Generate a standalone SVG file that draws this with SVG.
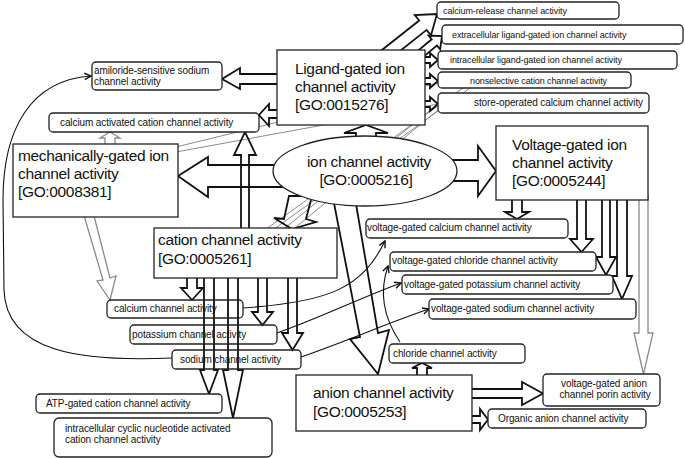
<svg xmlns="http://www.w3.org/2000/svg" width="685" height="458" viewBox="0 0 685 458">
<style>
text{font-family:"Liberation Sans",Arial,sans-serif;fill:#111}
.big{font-size:15.5px;letter-spacing:-0.35px}
.sm{font-size:10px;letter-spacing:-0.1px}
.xs{font-size:9px;letter-spacing:-0.1px}
.box{fill:#fff;stroke:#222;stroke-width:1.3}
.open{fill:none;stroke:#222;stroke-width:1.3}
.ar{fill:none;stroke:#111;stroke-width:1.8;stroke-linejoin:miter}
.ga{fill:none;stroke:#8a8a8a;stroke-width:1.3}
.gl{fill:none;stroke:#8a8a8a;stroke-width:1}
.th{fill:none;stroke:#111;stroke-width:1.1;marker-end:url(#ah)}
</style>
<defs>
<marker id="ah" viewBox="0 0 10 10" refX="9" refY="5" markerWidth="8" markerHeight="8" orient="auto" markerUnits="userSpaceOnUse">
<path d="M1,1 L9,5 L1,9" fill="none" stroke="#111" stroke-width="1.8"/>
</marker>
</defs>
<rect width="685" height="458" fill="#fff"/>
<g id="connectors">
<line class="gl" x1="262" y1="232" x2="463" y2="88"/>
<line class="gl" x1="270" y1="232" x2="470" y2="88"/>
<line class="gl" x1="280" y1="232" x2="438" y2="104"/>
<line class="gl" x1="290" y1="232" x2="438" y2="110"/>
<line class="gl" x1="176" y1="152" x2="438" y2="104"/>
<line class="gl" x1="176" y1="147" x2="438" y2="83"/>
<polygon class="ar" points="282,165 208,165 208,157 178,176 208,197 208,187 282,187"/>
<polygon class="ar" points="356,145 356,133 344,133 366,125 388,133 376,133 376,145"/>
<polygon class="ar" points="450,160 478,160 478,146 496,171 478,196 478,181 450,181"/>
<polygon class="ar" points="289,196 284,219 274,218 292,229 316,222 306,219 312,196"/>
<polygon class="ar" points="333,198 360,337 350,339 378,374 389,330 378,333 355,198"/>
<polygon class="ar" points="241,232 241,155 234,155 245,132 256,155 249,155 249,232"/>
<polygon class="ar" points="282,110 269,110 269,104 259,115 269,126 269,118 282,118"/>
<polygon class="ar" points="282,74 240,74 240,68 222,79 240,89 240,84 282,84"/>
<polygon class="ar" points="380.3,51.3 419.2,20.5 414.8,15 437,14 431,35.4 426.6,29.9 387.7,60.7"/>
<polygon class="ar" points="415.4,52.9 431.7,39.3 428.5,35.5 442,36 440.1,49.3 436.9,45.5 420.6,59.1"/>
<polygon class="ar" points="420,57 430,57 430,53 438,60 430,67 430,63 420,63"/>
<polygon class="ar" points="420,78 430,78 430,74 438,81 430,88 430,84 420,84"/>
<polygon class="ar" points="420,101 430,101 430,97 438,104 430,111 430,107 420,107"/>
<polygon class="ar" points="512,195 512,212 505,212 517,219 529,212 522,212 522,195"/>
<polygon class="ar" points="577,195 577,239 570,239 581.5,252 593,239 586,239 586,195"/>
<polygon class="ar" points="602,195 602,257 596,257 606,275 616,257 610,257 610,195"/>
<polygon class="ar" points="617,195 617,276 612,276 622,299 632,276 627,276 627,195"/>
<polygon class="ga" points="639,195 639,333 634,333 643.5,374 653,333 648,333 648,195"/>
<polygon class="ar" points="187,272 187,288 181,288 192,300 203,288 197,288 197,272"/>
<polygon class="ar" points="258,272 258,312 252,312 262.5,325 273,312 267,312 267,272"/>
<polygon class="ar" points="288,272 288,333 282,333 292.5,350 303,333 297,333 297,272"/>
<polygon class="ar" points="204,272 204,370 200,370 209,394 218,370 214,370 214,272"/>
<polygon class="ar" points="228,272 228,370 223,370 233,418 243,370 238,370 238,272"/>
<polygon class="ga" points="83,212 103,280 97,281 110,300 116,276 110,278 93,212"/>
<polygon class="ga" points="105,150 105,138 100,138 110,132 120,138 115,138 115,150"/>
<polygon class="ar" points="417,380 417,368 412,368 422,363 432,368 427,368 427,380"/>
<polygon class="ar" points="465,389 522,389 522,382 543,393.5 522,405 522,398 465,398"/>
<polygon class="ar" points="465,416 480,416 480,409 488,419.5 480,430 480,423 465,423"/>
<path class="th" d="M172,358 C80,362 6,352 4,290 L3,200 C3,130 30,80 91,76"/>
<path class="th" d="M243,308 C330,302 362,288 385,241"/>
<path class="th" d="M277,333 C320,318 360,298 401,283"/>
<path class="th" d="M301,357 C350,340 390,322 429,309"/>
<path class="th" d="M400,342 C385,320 378,295 388,266"/>
</g>
<g id="n-ligand"><rect class="box" x="277" y="50" width="148" height="75"/>
<text class="big" x="295" y="74">Ligand-gated ion</text><text class="big" x="295" y="92">channel activity</text><text class="big" x="295" y="110">[GO:0015276]</text></g>
<g id="n-calcrel"><rect class="box" x="437" y="2" width="182" height="17" rx="4"/><text class="xs" x="443" y="14">calcium-release channel activity</text></g>
<g id="n-extra"><rect class="box" x="442" y="25" width="241" height="19" rx="4"/><text class="xs" x="452" y="38">extracellular ligand-gated ion channel activity</text></g>
<g id="n-intra"><rect class="box" x="438" y="51" width="239" height="18" rx="4"/><text class="xs" x="450" y="63">intracellular ligand-gated ion channel activity</text></g>
<g id="n-nonsel"><rect class="box" x="438" y="72" width="193" height="16" rx="4"/><text class="xs" x="470" y="84">nonselective cation channel activity</text></g>
<g id="n-storeop"><rect class="box" x="438" y="93" width="211" height="20" rx="4"/><text class="sm" x="474" y="106">store-operated calcium channel activity</text></g>
<g id="n-voltage"><rect class="box" x="496" y="126" width="152" height="74"/>
<text class="big" x="512" y="150">Voltage-gated ion</text><text class="big" x="512" y="168">channel activity</text><text class="big" x="512" y="186">[GO:0005244]</text></g>
<g id="n-ion"><ellipse cx="365" cy="171" rx="92" ry="35" fill="#fff" stroke="#222" stroke-width="1.3"/>
<text class="big" x="369" y="167" text-anchor="middle">ion channel activity</text><text class="big" x="366" y="185" text-anchor="middle">[GO:0005216]</text></g>
<g id="n-amil"><rect class="box" x="92" y="62" width="130" height="28" rx="4"/><text class="sm" x="94" y="74">amiloride-sensitive sodium</text><text class="sm" x="94" y="85">channel activity</text></g>
<g id="n-calcact"><rect class="box" x="49" y="113" width="210" height="19" rx="4"/><text class="sm" x="60" y="126">calcium activated cation channel activity</text></g>
<g id="n-mech"><rect class="box" x="13" y="144" width="165" height="73"/>
<text class="big" x="18" y="161">mechanically-gated ion</text><text class="big" x="18" y="179">channel activity</text><text class="big" x="18" y="197">[GO:0008381]</text></g>
<g id="n-cation"><rect class="box" x="154" y="228" width="183" height="50"/>
<text class="big" x="158" y="245">cation channel activity</text><text class="big" x="158" y="264">[GO:0005261]</text></g>
<g id="n-vgcalc"><rect class="box" x="366" y="219" width="202" height="19" rx="4"/><text class="sm" x="367" y="231">voltage-gated calcium channel activity</text></g>
<g id="n-vgchl"><rect class="box" x="390" y="252" width="206" height="19" rx="4"/><text class="sm" x="392" y="264">voltage-gated chloride channel activity</text></g>
<g id="n-vgpot"><rect class="box" x="402" y="275" width="211" height="19" rx="4"/><text class="sm" x="404" y="288">voltage-gated potassium channel activity</text></g>
<g id="n-vgsod"><rect class="box" x="429" y="299" width="207" height="20" rx="4"/><text class="sm" x="431" y="312">voltage-gated sodium channel activity</text></g>
<g id="n-calch"><rect class="open" x="107" y="300" width="136" height="18" rx="4"/><text class="sm" x="114" y="312">calcium channel activity</text></g>
<g id="n-potch"><rect class="open" x="130" y="325" width="147" height="19" rx="4"/><text class="sm" x="132" y="338">potassium channel activity</text></g>
<g id="n-sodch"><rect class="open" x="172" y="350" width="129" height="19" rx="4"/><text class="sm" x="180" y="363">sodium channel activity</text></g>
<g id="n-atp"><rect class="box" x="36" y="394" width="186" height="19" rx="4"/><text class="sm" x="46" y="407">ATP-gated cation channel activity</text></g>
<g id="n-cyclic"><rect class="box" x="54" y="418" width="218" height="39" rx="5"/><text class="sm" x="65" y="432">intracellular cyclic nucleotide activated</text><text class="sm" x="65" y="443">cation channel activity</text></g>
<g id="n-anion"><rect class="box" x="296" y="375" width="176" height="56"/>
<text class="big" x="313" y="398">anion channel activity</text><text class="big" x="313" y="417">[GO:0005253]</text></g>
<g id="n-chlch"><rect class="box" x="389" y="344" width="136" height="19" rx="4"/><text class="sm" x="393" y="357">chloride channel activity</text></g>
<g id="n-porin"><rect class="box" x="543" y="374" width="117" height="32" rx="4"/><text class="sm" x="604" y="387" text-anchor="middle">voltage-gated anion</text><text class="sm" x="605" y="398" text-anchor="middle">channel porin activity</text></g>
<g id="n-organic"><rect class="box" x="488" y="409" width="158" height="19" rx="4"/><text class="sm" x="498" y="422">Organic anion channel activity</text></g>
</svg>
